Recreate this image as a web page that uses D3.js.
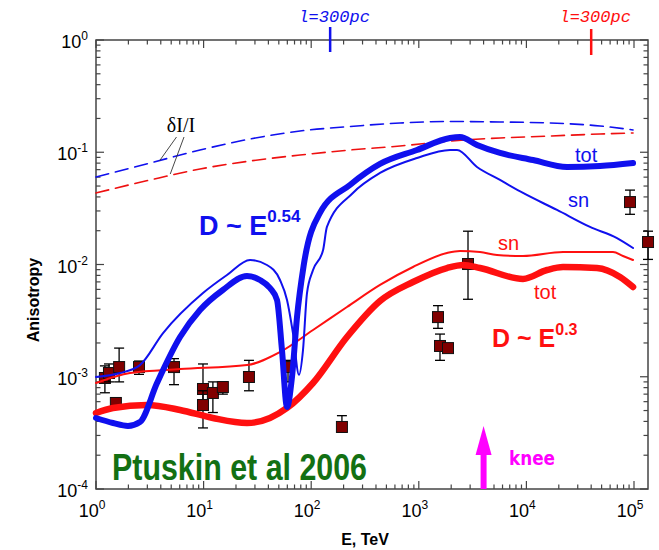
<!DOCTYPE html>
<html><head><meta charset="utf-8">
<script src="https://cdn.jsdelivr.net/npm/d3@7"></script>
<style>body{margin:0;background:#fff}svg{display:block}</style>
</head><body><svg id="c" width="659" height="550" font-family="Arial, 'Liberation Sans', sans-serif"></svg>
<script>
// Energies in TeV, anisotropy values
const dIblue = [[1,0.0602],[3.18,0.0802],[9.26,0.1047],[27,0.1312],[78.7,0.1546],[229,0.1696],[669,0.1822],[1950,0.1879],[5685,0.186],[16560,0.1822],[48300,0.1714],[98000,0.158]];
const dIred = [[1,0.0434],[3.18,0.0566],[9.26,0.0709],[27,0.0836],[78.7,0.0945],[229,0.1047],[669,0.1137],[1950,0.126],[5685,0.134],[16560,0.1395],[48300,0.1454],[98000,0.1484]];
const blueSn = [[1,0.000995],[1.67,0.00108],[2.56,0.00127],[4.2,0.00245],[9.87,0.00557],[16.5,0.00806],[27,0.01097],[38.8,0.0099],[51.3,0.00728],[59.6,0.00483],[67.7,0.00245],[77,0.00104],[83.9,0.00173],[91.4,0.00557],[104,0.00893],[129,0.01346],[140,0.0216],[244,0.0434],[436,0.0654],[962,0.0889],[1950,0.1047],[2265,0.1047],[3475,0.0739],[5685,0.0566],[9300,0.0434],[19250,0.0306],[39000,0.0216],[69500,0.0172],[98000,0.01403]];
const blueTot = [[1,0.000429],[1.44,0.000387],[1.98,0.000364],[2.56,0.000395],[3.69,0.00088],[6.04,0.00226],[9.26,0.00393],[15.1,0.00593],[25.3,0.0079],[33.4,0.00728],[41.4,0.00617],[48.1,0.00483],[53.5,0.00173],[59.6,0.000538],[66.3,0.000995],[73.8,0.0034],[85,0.0097],[121,0.0290],[229,0.0511],[436,0.0786],[962,0.1047],[1950,0.134],[2415,0.1367],[3475,0.116],[5685,0.0985],[11520,0.0853],[23850,0.0739],[48300,0.0754],[98000,0.0802]];
const redSn = [[1,0.00088],[2.07,0.00108],[6.04,0.00117],[25.3,0.00127],[51.3,0.00166],[104,0.00261],[215,0.00418],[436,0.00657],[883,0.0095],[1828,0.01266],[2415,0.0132],[3705,0.01292],[5330,0.01215],[9300,0.0119],[21900,0.01292],[63800,0.01292],[79000,0.0119],[98000,0.01097]];
const redTot = [[1,0.000475],[1.44,0.000527],[2.98,0.00056],[6.04,0.000506],[12.2,0.000429],[25.3,0.000387],[41.4,0.000429],[59.6,0.000527],[104,0.00088],[215,0.00226],[436,0.00473],[883,0.00698],[1828,0.0093],[2575,0.0099],[3705,0.0093],[9300,0.00743],[15540,0.00893],[21900,0.0095],[45300,0.0093],[74100,0.00774],[98000,0.0063]];
// measured points: [E, A, errLow, errHigh]
const points = [[1.21,0.000975,0.00072,0.00125],[1.32,0.00108,0.0009,0.0013],[1.53,0.000584,0.00053,0.00065],[1.64,0.00122,0.0009,0.0018],[2.51,0.00122,0.00105,0.00138],[5.31,0.00122,0.00085,0.00145],[9.87,0.000778,0.00052,0.0013],[9.87,0.00056,0.00035,0.00075],[12.2,0.000717,0.00048,0.0009],[15.1,0.00081,0.0007,0.0009],[26.4,0.000995,0.00075,0.0014],[60.9,0.00122,0.0009,0.0014],[193,0.000357,0.00032,0.00045],[1508,0.0034,0.0027,0.0043],[1574,0.00188,0.0014,0.0024],[1868,0.0018,0.0018,0.0018],[2866,0.0101,0.0049,0.0198],[91800,0.036,0.028,0.046],[135000,0.01586,0.0111,0.0198]];
const xDecades = [0,1,2,3,4,5];
const yDecades = [-4,-3,-2,-1,0];

const svg = d3.select('#c');
const L=96,R=648,T=40,B=489;
const x = d3.scaleLog().domain([1, Math.pow(10,(R-L)/107.6)]).range([L,R]);
const y = d3.scaleLog().domain([1e-4,1]).range([B,T]);

// frame
svg.append('rect').attr('x',L).attr('y',T).attr('width',R-L).attr('height',B-T).attr('fill','none').attr('stroke','#444').attr('stroke-width',1.5);

const xt=[],yt=[];
for(let d=0; d<=5; d++) for(let m=1;m<=9;m++){const v=m*Math.pow(10,d); if(x(v)<=R) xt.push([v,m===1]);}
for(let d=-4; d<0; d++) for(let m=1;m<=9;m++) yt.push([m*Math.pow(10,d),m===1]);
yt.push([1,true]);
const tg = svg.append('g').attr('stroke','#444').attr('stroke-width',1.2);
xt.forEach(([v,maj])=>{const l=maj?8:4.5;
  tg.append('line').attr('x1',x(v)).attr('x2',x(v)).attr('y1',B).attr('y2',B-l);
  tg.append('line').attr('x1',x(v)).attr('x2',x(v)).attr('y1',T).attr('y2',T+l);});
yt.forEach(([v,maj])=>{const l=maj?8:4.5;
  tg.append('line').attr('y1',y(v)).attr('y2',y(v)).attr('x1',L).attr('x2',L+l);
  tg.append('line').attr('y1',y(v)).attr('y2',y(v)).attr('x1',R).attr('x2',R-l);});

// tick labels
xDecades.forEach(d=>{
  const t=svg.append('text').attr('x',x(Math.pow(10,d))-4).attr('y',517).attr('text-anchor','middle').attr('font-size',18).attr('fill','#000');
  t.append('tspan').text('10');
  t.append('tspan').attr('dy',-8).attr('font-size',12).text(d);
});
yDecades.forEach(d=>{
  const t=svg.append('text').attr('x',88).attr('y',y(Math.pow(10,d))+8).attr('text-anchor','end').attr('font-size',18).attr('fill','#000');
  t.append('tspan').text('10');
  t.append('tspan').attr('dy',-8).attr('font-size',12).text(d);
});
svg.append('text').attr('x',365).attr('y',545).attr('text-anchor','middle').attr('font-size',16).attr('font-weight','bold').text('E, TeV');
svg.append('text').attr('transform','translate(39,300) rotate(-90)').attr('text-anchor','middle').attr('font-size',16).attr('font-weight','bold').text('Anisotropy');

// data points (under the curves)
const dg = svg.append('g');
points.forEach(p=>{
  const cx=x(p[0]);
  if(p[2]!==p[3]){
  dg.append('line').attr('x1',cx).attr('x2',cx).attr('y1',y(p[2])).attr('y2',y(p[3])).attr('stroke','#000').attr('stroke-width',1.3);
  [p[2],p[3]].forEach(v=>dg.append('line').attr('x1',cx-5).attr('x2',cx+5).attr('y1',y(v)).attr('y2',y(v)).attr('stroke','#000').attr('stroke-width',1.3));}
  dg.append('rect').attr('x',cx-5.5).attr('y',y(p[1])-5.5).attr('width',11).attr('height',11).attr('fill','#800000').attr('stroke','#111').attr('stroke-width',1);
});

const line = d3.line().x(d=>x(d[0])).y(d=>y(d[1])).curve(d3.curveMonotoneX);
const pg = svg.append('g');
function draw(data,color,w,dash){pg.append('path').attr('d',line(data)).attr('fill','none').attr('stroke',color).attr('stroke-width',w).attr('stroke-linecap','round').attr('stroke-linejoin','round').attr('stroke-dasharray',dash||null);}
draw(dIblue,'#1010ee',1.6,'13,7');
draw(dIred,'#ee1010',1.6,'13,7');
draw(redSn,'#ff1010',2);
draw(redTot,'#ff1010',6.5);
draw(blueSn,'#1010ee',2);
draw(blueTot,'#1010ee',6);

// δI/I label with leaders
svg.append('text').attr('x',181).attr('y',132).attr('text-anchor','middle').style('font-family','"Liberation Serif","DejaVu Serif",serif').attr('font-size',20).text('δI/I');
svg.append('line').attr('x1',176.5).attr('y1',137).attr('x2',x(3.9)).attr('y2',y(0.084)).attr('stroke','#333').attr('stroke-width',0.9);
svg.append('line').attr('x1',184).attr('y1',137).attr('x2',x(4.9)).attr('y2',y(0.064)).attr('stroke','#333').attr('stroke-width',0.9);

// annotations
function lab(tx,xp,yp,col,size,sup,supSize,supDy){const t=svg.append('text').attr('x',xp).attr('y',yp).attr('fill',col).attr('font-size',size).attr('font-weight','bold');t.append('tspan').text(tx);if(sup){t.append('tspan').attr('dy',supDy).attr('font-size',supSize).text(sup);}return t;}
lab('D ~ E',199,235,'#1010ee',27,'0.54',17,-13);
lab('D ~ E',492,347,'#ff1010',25,'0.3',16,-12);
svg.append('text').attr('x',575).attr('y',162).attr('fill','#1010ee').attr('font-size',20).text('tot');
svg.append('text').attr('x',568).attr('y',207).attr('fill','#1010ee').attr('font-size',20).text('sn');
svg.append('text').attr('x',498).attr('y',250).attr('fill','#ff1010').attr('font-size',20).text('sn');
svg.append('text').attr('x',534).attr('y',299).attr('fill','#ff1010').attr('font-size',20).text('tot');
svg.append('text').attr('x',112).attr('y',480).attr('fill','#137013').attr('font-size',36).attr('font-weight','bold').attr('textLength',255).attr('lengthAdjust','spacingAndGlyphs').text('Ptuskin et al 2006');
svg.append('text').attr('x',509).attr('y',465).attr('fill','#ff00ff').attr('font-size',20).attr('font-weight','bold').style('font-family','"Comic Sans MS","DejaVu Sans",sans-serif').attr('textLength',46).attr('lengthAdjust','spacingAndGlyphs').text('knee');
// knee arrow
const kx = x(4000);
svg.append('line').attr('x1',kx).attr('x2',kx).attr('y1',B).attr('y2',450).attr('stroke','#ff00ff').attr('stroke-width',6);
svg.append('path').attr('d',`M${kx-8},455 L${kx},426 L${kx+8},455 Z`).attr('fill','#ff00ff');

// l=300pc markers
[[150,'#1010ee',27,52],[40000,'#ff1010',29,55]].forEach(([e,c,y1,y2])=>{
  svg.append('line').attr('x1',x(e)).attr('x2',x(e)).attr('y1',y1).attr('y2',y2).attr('stroke',c).attr('stroke-width',2.5);
  svg.append('text').attr('x',x(e)+4).attr('y',22).attr('text-anchor','middle').attr('fill',c).attr('font-size',17).attr('font-style','italic').style('font-family','"Liberation Mono","DejaVu Sans Mono",monospace').text('l=300pc');
});
</script></body></html>
